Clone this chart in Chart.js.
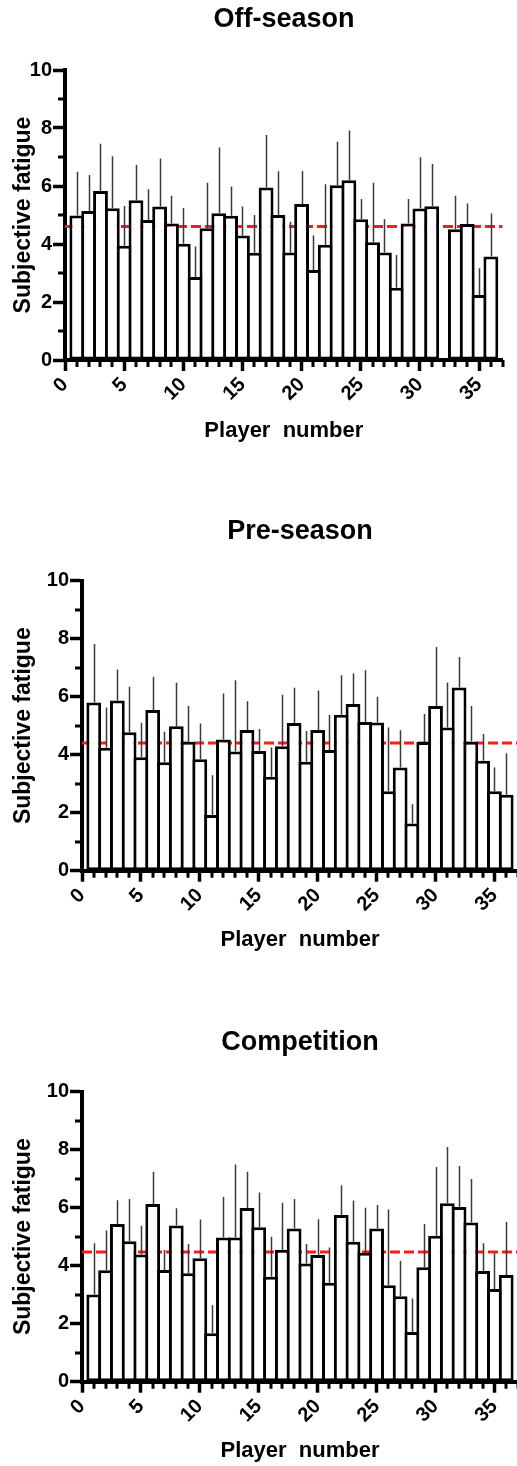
<!DOCTYPE html>
<html>
<head>
<meta charset="utf-8">
<title>Subjective fatigue by player</title>
<script src="https://cdn.jsdelivr.net/npm/chart.js@4.4.1/dist/chart.umd.min.js"></script>
<style>
  html, body { margin: 0; padding: 0; background: #fff; overflow: hidden; width: 517px; height: 1466px; }
  canvas { position: absolute; left: 0; }
</style>
</head>
<body>
<canvas id="offSeason"></canvas>
<canvas id="preSeason"></canvas>
<canvas id="competition"></canvas>
<script>
// ---- data ---------------------------------------------------------------
const players = [1, 2, 3, 4, 5, 6, 7, 8, 9, 10, 11, 12, 13, 14, 15, 16, 17, 18,
                 19, 20, 21, 22, 23, 24, 25, 26, 27, 28, 29, 30, 31, 32, 33, 34, 35, 36];

const offSeasonMean = [4.98, 5.14, 5.83, 5.23, 3.94, 5.51, 4.83, 5.29, 4.71, 4.01, 2.86, 4.54,
                       5.06, 4.97, 4.29, 3.70, 5.95, 5.00, 3.71, 5.38, 3.10, 3.97, 6.03, 6.20,
                       4.85, 4.06, 3.71, 2.49, 4.71, 5.22, 5.30, null, 4.51, 4.69, 2.24, 3.57];
const offSeasonSD   = [1.51, 1.24, 1.63, 1.80, 1.37, 1.21, 1.06, 1.66, 0.95, 1.23, 1.05, 1.57,
                       2.27, 1.01, 1.00, 1.30, 1.81, 1.51, 1.06, 1.14, 1.19, 2.09, 1.50, 1.71,
                       0.70, 2.05, 1.14, 1.13, 0.84, 1.77, 1.46, null, 1.15, 0.71, 0.92, 1.48];
const offSeasonTeamMean = 4.60;

const preSeasonMean = [5.80, 4.24, 5.87, 4.77, 3.91, 5.54, 3.74, 4.98, 4.45, 3.84, 1.92, 4.52,
                       4.11, 4.85, 4.13, 3.24, 4.29, 5.09, 3.76, 4.85, 4.16, 5.38, 5.75, 5.13,
                       5.11, 2.74, 3.56, 1.63, 4.44, 5.68, 4.94, 6.32, 4.45, 3.79, 2.74, 2.62];
const preSeasonSD   = [2.02, 1.39, 1.07, 1.57, 1.19, 1.15, 1.05, 1.50, 1.23, 1.24, 1.37, 1.59,
                       2.46, 0.99, 0.76, 1.01, 1.78, 1.22, 1.06, 1.36, 1.21, 1.36, 1.05, 1.78,
                       0.89, 2.20, 1.28, 0.66, 0.96, 2.03, 1.55, 1.05, 1.23, 0.92, 0.82, 1.43];
const preSeasonTeamMean = 4.40;

const competitionMean = [3.01, 3.84, 5.44, 4.84, 4.39, 6.13, 3.85, 5.39, 3.74, 4.26, 1.67, 4.97,
                         4.97, 5.99, 5.33, 3.62, 4.55, 5.28, 4.08, 4.37, 3.41, 5.75, 4.83, 4.45,
                         5.28, 3.33, 2.95, 1.71, 3.95, 5.03, 6.15, 6.02, 5.49, 3.82, 3.20, 3.68];
const competitionSD   = [1.76, 1.37, 0.82, 1.46, 0.99, 1.11, 0.69, 0.59, 1.01, 1.33, 0.97, 1.40,
                         2.52, 1.25, 1.19, 1.38, 1.62, 1.02, 0.67, 1.23, 1.22, 1.02, 1.42, 1.55,
                         0.81, 2.61, 1.21, 1.16, 1.49, 2.37, 1.94, 1.42, 1.50, 0.95, 1.23, 1.83];
const competitionTeamMean = 4.47;

const xTickValues = [0, 5, 10, 15, 20, 25, 30, 35];
const yTickValues = [0, 2, 4, 6, 8, 10];
const X_MIN = 0, X_MAX = 37, Y_MIN = 0, Y_MAX = 10;

// ---- styling --------------------------------------------------------------
const FONT = "'Liberation Sans', Arial, Helvetica, sans-serif";
const TITLE_SIZE = 27, AXIS_TITLE_X = 22, AXIS_TITLE_Y = 23, TICK_SIZE = 20;
const LH = 1.2;
const BAR_BORDER = 3;
const X_AXIS_H = 90;
const RED = '#ff1a1a';

// error bars (upper whisker only, no cap)
const errorBars = {
  id: 'errorBars',
  afterDatasetsDraw(chart, args, opts) {
    const { ctx } = chart;
    const yScale = chart.scales.y;
    chart.data.datasets.forEach((ds, di) => {
      if (!ds.errorPlus) return;
      const meta = chart.getDatasetMeta(di);
      ctx.save();
      ctx.strokeStyle = opts.color;
      ctx.lineWidth = opts.width;
      ctx.beginPath();
      meta.data.forEach((bar, i) => {
        const v = ds.data[i].y, e = ds.errorPlus[i];
        if (v == null || e == null) return;
        const x = Math.round(bar.x) + 0.5;
        ctx.moveTo(x, bar.y);
        ctx.lineTo(x, yScale.getPixelForValue(v + e));
      });
      ctx.stroke();
      ctx.restore();
    });
  }
};

// short unlabelled ticks between the labelled ones
const minorTicks = {
  id: 'minorTicks',
  afterDraw(chart, args, opts) {
    const { ctx, chartArea: a } = chart;
    const xs = chart.scales.x, ys = chart.scales.y;
    ctx.save();
    ctx.strokeStyle = '#000';
    ctx.lineWidth = opts.width;
    ctx.beginPath();
    for (let v = Math.ceil(xs.min); v <= xs.max; v++) {
      if (xTickValues.includes(v)) continue;
      const px = Math.round(xs.getPixelForValue(v));
      ctx.moveTo(px, a.bottom);
      ctx.lineTo(px, a.bottom + opts.length);
    }
    for (let v = Math.ceil(ys.min); v <= ys.max; v++) {
      if (yTickValues.includes(v)) continue;
      const py = Math.round(ys.getPixelForValue(v));
      ctx.moveTo(a.left - opts.length, py);
      ctx.lineTo(a.left, py);
    }
    ctx.stroke();
    ctx.restore();
  }
};

function buildPanel(canvasId, frame, titleText, means, sds, teamMean) {
  // an empty right-hand gutter lets the panel title sit centred at frame.titleX
  const gutter = 2 * frame.titleX - frame.area.right;
  const width = frame.area.right + gutter;

  const canvas = document.getElementById(canvasId);
  canvas.width = width;
  canvas.height = frame.height;
  canvas.style.top = frame.top + 'px';

  const areaTop = frame.area.top - frame.top;
  const areaBottom = frame.area.bottom - frame.top;
  const titleLH = TITLE_SIZE * LH;
  const titlePadTop = frame.titleMid - frame.top - titleLH / 2;
  const titlePadBottom = areaTop - titleLH - titlePadTop;
  const xTitlePadBottom = X_AXIS_H - (frame.xTitleMid - frame.area.bottom) - (AXIS_TITLE_X * LH) / 2;
  const yTitlePadTop = frame.yTitleMid - (AXIS_TITLE_Y * LH) / 2;
  const unitPx = (frame.area.right - frame.area.left) / (X_MAX - X_MIN);

  return new Chart(canvas, {
    type: 'bar',
    data: {
      datasets: [
        {
          type: 'bar',
          order: 1,
          data: players.map((p, i) => ({ x: p, y: means[i] })),
          errorPlus: sds,
          backgroundColor: '#ffffff',
          borderColor: '#000000',
          borderWidth: BAR_BORDER,
          borderSkipped: false,
          barPercentage: (unitPx + BAR_BORDER) / unitPx,
          categoryPercentage: 1
        },
        {
          type: 'line',
          order: 2,
          data: [{ x: X_MIN, y: teamMean }, { x: X_MAX, y: teamMean }],
          borderColor: RED,
          borderWidth: 3,
          borderDash: [10, 4],
          pointRadius: 0,
          fill: false
        }
      ]
    },
    options: {
      responsive: false,
      animation: false,
      events: [],
      layout: {
        padding: { top: 0, left: 0, right: 0, bottom: frame.height - areaBottom - X_AXIS_H }
      },
      plugins: {
        legend: { display: false },
        tooltip: { enabled: false },
        title: {
          display: true,
          text: titleText,
          color: '#000',
          font: { family: FONT, size: TITLE_SIZE, weight: 'bold', lineHeight: LH },
          padding: { top: titlePadTop, bottom: titlePadBottom }
        },
        errorBars: { color: '#3a3a3a', width: 1.5 },
        minorTicks: { length: 7, width: 3 }
      },
      scales: {
        x: {
          type: 'linear',
          min: X_MIN,
          max: X_MAX,
          offset: false,
          afterBuildTicks: (scale) => { scale.ticks = xTickValues.map(v => ({ value: v })); },
          afterFit: (scale) => { scale.height = X_AXIS_H; },
          grid: { offset: false, drawOnChartArea: false, drawTicks: true, tickLength: 11, tickWidth: 3.5, tickColor: '#000' },
          border: { display: true, width: 4, color: '#000' },
          ticks: {
            autoSkip: false,
            minRotation: 45,
            maxRotation: 45,
            padding: 2,
            color: '#000',
            font: { family: FONT, size: TICK_SIZE, weight: 'bold' }
          },
          title: {
            display: true,
            text: 'Player  number',
            color: '#000',
            font: { family: FONT, size: AXIS_TITLE_X, weight: 'bold', lineHeight: LH },
            padding: { top: 0, bottom: xTitlePadBottom }
          }
        },
        y: {
          min: Y_MIN,
          max: Y_MAX,
          afterBuildTicks: (scale) => { scale.ticks = yTickValues.map(v => ({ value: v })); },
          afterFit: (scale) => { scale.width = frame.area.left; },
          grid: { drawOnChartArea: false, drawTicks: true, tickLength: 12, tickWidth: 3.5, tickColor: '#000' },
          border: { display: true, width: 4, color: '#000' },
          ticks: {
            padding: 1,
            color: '#000',
            font: { family: FONT, size: TICK_SIZE, weight: 'bold' }
          },
          title: {
            display: true,
            text: 'Subjective fatigue',
            color: '#000',
            font: { family: FONT, size: AXIS_TITLE_Y, weight: 'bold', lineHeight: LH },
            padding: { top: yTitlePadTop, bottom: 0 }
          }
        },
        gutter: {
          type: 'linear',
          position: 'right',
          display: true,
          grid: { display: false, drawTicks: false },
          border: { display: false },
          ticks: { display: false },
          afterFit: (scale) => { scale.width = gutter; }
        }
      }
    },
    plugins: [errorBars, minorTicks]
  });
}

// page frames for the three stacked panels
const frames = {
  off:  { top: 0,    height: 470, titleX: 284, area: { left: 65, right: 502.7, top: 70,     bottom: 360 },    titleMid: 19.7,   xTitleMid: 430.5,  yTitleMid: 23.5 },
  pre:  { top: 500,  height: 470, titleX: 300, area: { left: 82, right: 518,   top: 580.7,  bottom: 870.7 },  titleMid: 531.7,  xTitleMid: 939.5,  yTitleMid: 23.5 },
  comp: { top: 1010, height: 470, titleX: 300, area: { left: 82, right: 518,   top: 1091.7, bottom: 1381.7 }, titleMid: 1042.8, xTitleMid: 1450.5, yTitleMid: 23.5 }
};

buildPanel('offSeason',   frames.off,  'Off-season',  offSeasonMean,   offSeasonSD,   offSeasonTeamMean);
buildPanel('preSeason',   frames.pre,  'Pre-season',  preSeasonMean,   preSeasonSD,   preSeasonTeamMean);
buildPanel('competition', frames.comp, 'Competition', competitionMean, competitionSD, competitionTeamMean);
</script>
</body>
</html>
